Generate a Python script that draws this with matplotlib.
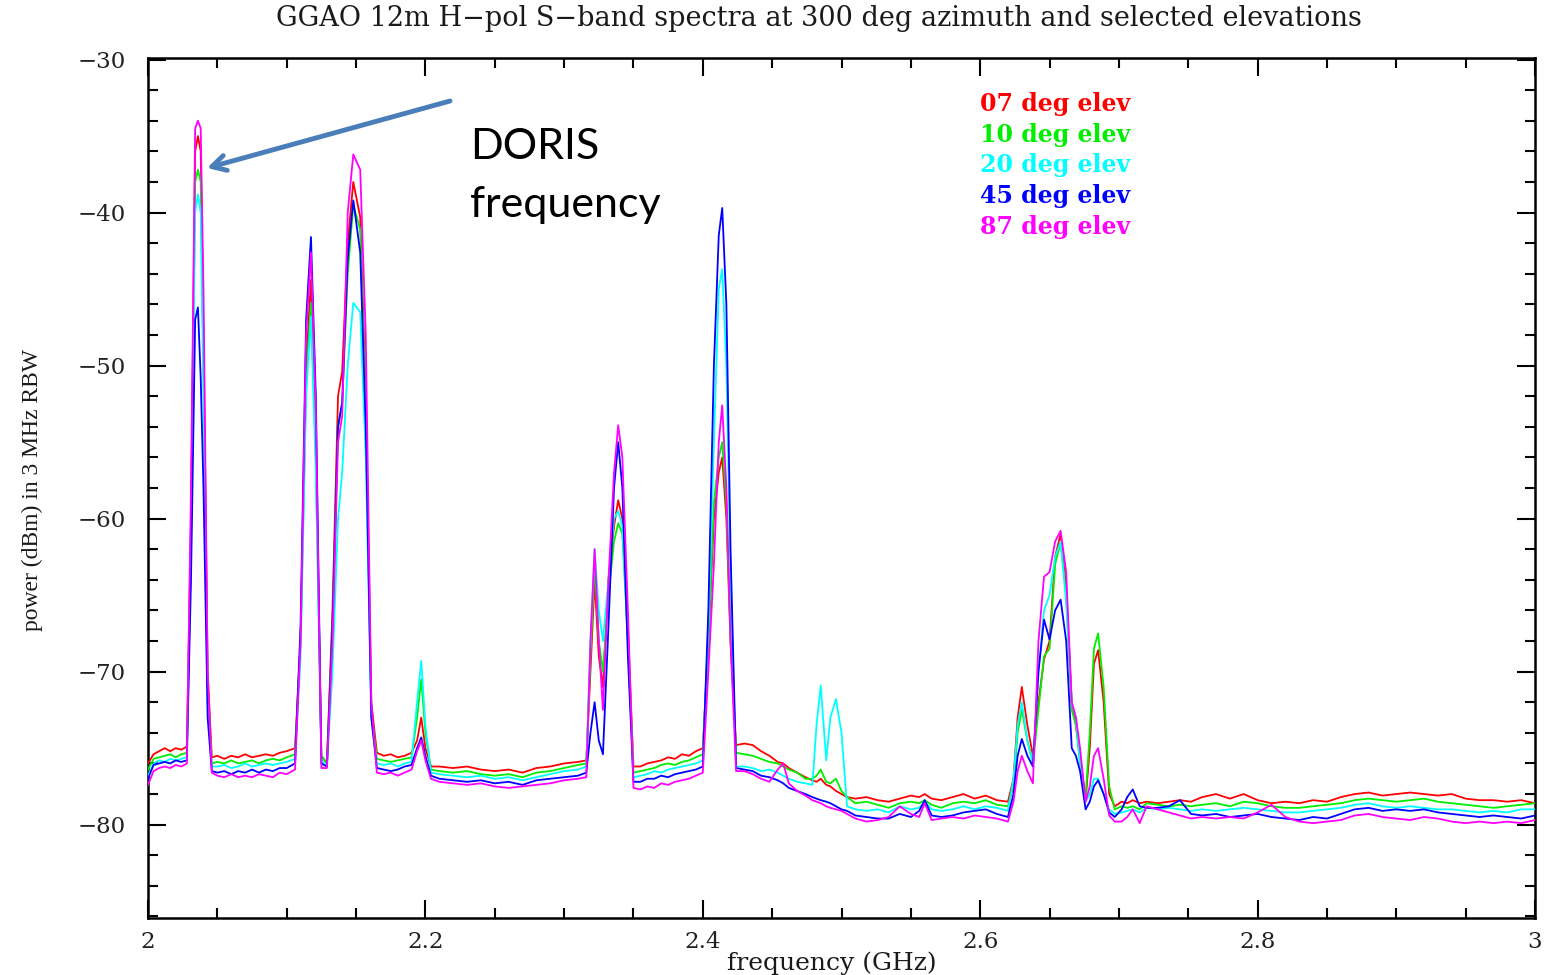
import matplotlib
matplotlib.use("Agg")
import matplotlib.pyplot as plt
from matplotlib.ticker import MultipleLocator, FuncFormatter

# ---------------- data ----------------
freq_ghz = [
    2.000, 2.004, 2.008, 2.012, 2.016, 2.020, 2.024, 2.028,
    2.031, 2.034, 2.036, 2.038, 2.040, 2.043, 2.046,
    2.050, 2.055, 2.060, 2.065, 2.070, 2.075, 2.080, 2.085, 2.090, 2.095, 2.100, 2.106,
    2.110, 2.114, 2.1175, 2.121, 2.125,
    2.129, 2.133, 2.137, 2.140, 2.144, 2.148, 2.153, 2.157, 2.161,
    2.165, 2.170, 2.175, 2.180, 2.185, 2.190,
    2.194, 2.197, 2.200, 2.204,
    2.210, 2.220, 2.230, 2.240, 2.250, 2.260, 2.270, 2.280, 2.290, 2.300, 2.310, 2.316,
    2.319, 2.322, 2.325, 2.328, 2.332, 2.336, 2.339, 2.342, 2.346, 2.350,
    2.355, 2.360, 2.365, 2.370, 2.375, 2.380, 2.385, 2.390, 2.395, 2.400,
    2.404, 2.408, 2.4115, 2.414, 2.417, 2.420, 2.424,
    2.430, 2.436, 2.442, 2.448, 2.454, 2.458, 2.462, 2.468, 2.474, 2.479,
    2.482, 2.485, 2.489, 2.492, 2.496, 2.500, 2.504,
    2.510, 2.518, 2.526, 2.534, 2.542, 2.550, 2.556, 2.560, 2.565, 2.572, 2.580, 2.588,
    2.596, 2.604, 2.612, 2.620,
    2.624, 2.627, 2.630, 2.634, 2.638, 2.642, 2.646, 2.650, 2.654, 2.658, 2.662, 2.666,
    2.669, 2.672, 2.676, 2.679, 2.682, 2.685, 2.689, 2.693, 2.697,
    2.702, 2.706, 2.710, 2.715, 2.720, 2.728, 2.736, 2.744, 2.752, 2.760, 2.770, 2.780,
    2.790, 2.800, 2.810, 2.820, 2.830, 2.840, 2.850, 2.860, 2.870, 2.880, 2.890, 2.900,
    2.910, 2.920, 2.930, 2.940, 2.950, 2.960, 2.970, 2.980, 2.990, 3.000,
]

elev07 = [
    -76.0, -75.4, -75.2, -75.0, -75.2, -75.0, -75.1, -74.9,
    -60.0, -36.0, -35.0, -36.0, -48.0, -70.0, -75.6,
    -75.5, -75.7, -75.5, -75.6, -75.4, -75.6, -75.5, -75.4, -75.5, -75.3, -75.2, -75.0,
    -68.0, -50.0, -44.4, -55.0, -75.5,
    -76.0, -66.0, -52.0, -50.4, -42.0, -38.0, -40.3, -52.0, -72.0,
    -75.3, -75.5, -75.4, -75.6, -75.5, -75.3,
    -74.5, -73.0, -75.0, -76.2,
    -76.2, -76.3, -76.2, -76.4, -76.5, -76.4, -76.6, -76.3, -76.2, -76.0, -75.9, -75.8,
    -70.0, -64.0, -69.0, -71.0, -64.0, -60.5, -58.8, -60.0, -67.0, -76.2,
    -76.2, -76.0, -75.9, -75.8, -75.6, -75.7, -75.4, -75.5, -75.2, -75.0,
    -68.0, -60.0, -57.0, -56.0, -60.0, -68.0, -74.8,
    -74.7, -74.8, -75.2, -75.5, -75.9, -76.0, -76.3, -76.6, -76.9, -77.1,
    -77.2, -77.0, -77.4, -77.5, -77.8, -78.0, -78.2,
    -78.3, -78.2, -78.4, -78.5, -78.3, -78.1, -78.2, -78.0, -78.3, -78.4, -78.2, -78.0,
    -78.3, -78.1, -78.4, -78.5,
    -77.0, -73.0, -71.0, -73.5, -75.5, -72.0, -69.2, -68.0, -62.5, -61.0, -64.5, -72.0,
    -73.5, -75.5, -78.4, -75.0, -69.5, -68.6, -72.0, -78.0, -78.8,
    -78.5, -78.6, -78.4, -78.6, -78.5, -78.6, -78.5, -78.4, -78.5, -78.2, -78.0, -78.3,
    -78.0, -78.4, -78.6, -78.5, -78.6, -78.4, -78.5, -78.2, -78.0, -77.9, -78.1, -78.0,
    -77.9, -78.0, -78.1, -78.0, -78.3, -78.4, -78.4, -78.5, -78.4, -78.6,
]

elev10 = [
    -76.4, -75.7, -75.6, -75.5, -75.4, -75.6, -75.4, -75.3,
    -61.0, -38.0, -37.2, -38.0, -50.0, -71.0, -76.0,
    -75.9, -76.0, -75.8, -76.0, -75.9, -75.8, -76.0, -75.8, -75.7, -75.8, -75.6, -75.4,
    -68.0, -51.0, -45.9, -56.0, -75.5,
    -76.0, -67.0, -54.0, -52.5, -44.0, -39.5, -41.1, -53.0, -72.5,
    -75.7, -75.8, -75.9, -75.8, -75.7, -75.6,
    -73.0, -70.5, -74.0, -76.4,
    -76.5, -76.6, -76.5, -76.7, -76.8, -76.7, -76.9, -76.6, -76.5, -76.3, -76.1, -76.0,
    -69.0, -63.0, -68.0, -70.0, -65.0, -61.5, -60.3, -61.0, -68.0, -76.6,
    -76.5, -76.4, -76.3, -76.1, -76.0, -76.1, -75.9, -75.8, -75.6, -75.4,
    -68.0, -59.0, -56.0, -55.0, -59.0, -68.0, -75.3,
    -75.4, -75.5, -75.7, -75.9, -76.0, -76.2, -76.4, -76.6, -77.0, -77.0,
    -76.8, -76.4, -77.2, -77.3, -77.0, -77.8, -78.2,
    -78.6, -78.5, -78.7, -78.9, -78.6, -78.5, -78.6, -78.4, -78.7, -78.9, -78.6, -78.5,
    -78.6, -78.4, -78.7, -78.8,
    -77.5, -74.0, -72.5, -74.5, -76.0, -72.5, -69.0, -68.5, -63.0, -61.5, -65.0, -72.5,
    -73.5, -76.0, -78.2, -74.0, -68.5, -67.5, -71.0, -77.5, -79.0,
    -78.8, -78.9, -78.8, -79.0, -78.6, -78.7, -78.8, -78.7, -78.8, -78.7, -78.6, -78.8,
    -78.5, -78.6, -78.8, -78.9, -78.9, -78.8, -78.7, -78.6, -78.4, -78.3, -78.4, -78.5,
    -78.4, -78.3, -78.5, -78.6, -78.7, -78.8, -78.9, -78.8, -78.7, -78.6,
]

elev20 = [
    -76.8, -76.0, -75.8, -75.9, -75.7, -75.8, -75.7, -75.6,
    -62.0, -40.0, -38.8, -40.0, -52.0, -72.0, -76.2,
    -76.2, -76.1, -76.3, -76.2, -76.0, -76.2, -76.1, -76.0, -76.1, -76.0, -75.9, -75.7,
    -69.0, -52.0, -46.8, -57.0, -75.8,
    -76.2, -70.0, -60.0, -57.0, -50.0, -45.9, -46.5, -56.0, -73.0,
    -76.0, -76.1, -76.0, -76.2, -76.0, -75.9,
    -72.0, -69.3, -73.5, -76.6,
    -76.7, -76.8, -76.9, -76.8, -77.0, -76.9, -77.1, -76.9, -76.7, -76.5, -76.4, -76.2,
    -68.0, -62.0, -66.0, -68.0, -64.0, -60.0, -59.5, -60.5, -68.0, -76.9,
    -76.8, -76.7, -76.5, -76.6, -76.4, -76.3, -76.2, -76.1, -76.0, -75.8,
    -67.0, -55.0, -45.0, -43.7, -50.0, -64.0, -76.2,
    -76.2, -76.3, -76.5, -76.4, -76.6, -76.8, -77.0, -77.2, -77.3, -77.4,
    -73.5, -70.9, -75.8, -73.0, -71.8, -74.0, -78.8,
    -79.0, -79.1, -79.0, -79.2, -78.8, -79.0, -78.9, -78.5, -79.0, -79.1, -79.0, -78.8,
    -79.0, -78.8, -78.9, -79.1,
    -77.0, -73.5, -72.0, -74.5, -76.0, -70.0, -66.0, -65.0, -62.5, -61.5, -65.5, -72.0,
    -73.0, -76.0, -78.5, -78.0, -77.0, -77.0, -78.0, -79.0, -79.3,
    -79.2, -79.1, -79.0, -79.2, -78.9, -79.0, -78.9, -79.0, -79.1, -79.0, -79.1, -79.0,
    -78.9, -79.0, -79.1, -79.2, -79.2, -79.1, -79.0, -78.9, -78.7, -78.6, -78.8, -78.9,
    -78.8, -78.9, -79.0, -79.0, -79.1, -79.2, -79.1, -79.2, -79.0, -79.0,
]

elev45 = [
    -77.0, -76.1, -76.0, -75.9, -76.0, -75.8, -75.9, -75.8,
    -64.0, -47.0, -46.2, -50.8, -58.0, -73.0, -76.5,
    -76.6, -76.5, -76.7, -76.5, -76.6, -76.4, -76.6, -76.4, -76.5, -76.3, -76.3, -76.0,
    -67.0, -47.0, -41.6, -52.0, -76.0,
    -76.2, -67.0, -54.0, -52.4, -43.0, -39.2, -42.6, -54.0, -73.0,
    -76.3, -76.4, -76.5, -76.4, -76.2, -76.1,
    -75.0, -74.3, -75.5, -76.8,
    -77.0, -77.1, -77.2, -77.1, -77.3, -77.2, -77.4, -77.1, -77.0, -76.9, -76.8, -76.6,
    -74.0, -72.0, -74.5, -75.4, -67.0, -58.0, -55.0, -58.0, -69.0, -77.2,
    -77.2, -77.0, -77.0, -76.8, -76.9, -76.7, -76.6, -76.5, -76.4, -76.2,
    -66.0, -50.0, -41.5, -39.7, -46.0, -62.0, -76.3,
    -76.4, -76.5, -76.8, -76.9, -77.1, -77.3, -77.6, -77.8, -78.0, -78.2,
    -78.3, -78.4, -78.5, -78.6, -78.8, -79.0, -79.1,
    -79.4, -79.5, -79.6, -79.6, -79.3, -79.5, -79.1, -78.4, -79.4, -79.5, -79.4, -79.2,
    -79.1, -79.0, -79.3, -79.5,
    -78.0, -75.5, -74.4, -75.5, -76.2, -70.0, -66.6, -67.9, -66.0, -65.3, -68.0, -75.0,
    -75.5, -76.5, -79.0, -78.5, -77.5, -77.1, -78.0, -79.2, -79.5,
    -79.0, -78.2, -77.7, -78.8, -78.9, -78.9, -78.8, -78.4, -79.3, -79.4, -79.3, -79.5,
    -79.4, -79.3, -79.5, -79.6, -79.7, -79.5, -79.6, -79.3, -79.0, -78.9, -79.1, -79.0,
    -79.1, -79.0, -79.2, -79.3, -79.4, -79.5, -79.4, -79.5, -79.6, -79.4,
]

elev87 = [
    -77.4, -76.5, -76.3, -76.2, -76.3, -76.1, -76.2, -76.0,
    -58.0, -34.5, -34.0, -34.5, -45.0, -70.0, -76.6,
    -76.8, -76.9, -76.7, -76.9, -76.8, -76.9, -76.7, -76.8, -76.9, -76.6, -76.7, -76.4,
    -68.0, -48.0, -42.6, -53.0, -76.3,
    -76.3, -68.0, -55.0, -53.3, -40.0, -36.2, -37.2, -48.0, -72.0,
    -76.6, -76.7, -76.6, -76.8, -76.6, -76.4,
    -75.2, -74.5, -75.8, -77.0,
    -77.2, -77.3, -77.4, -77.3, -77.5, -77.6, -77.5, -77.4, -77.3, -77.1, -77.0, -76.9,
    -68.0, -62.0, -68.0, -72.5, -64.0, -57.0, -53.9, -56.0, -66.0, -77.6,
    -77.7, -77.5, -77.6, -77.3, -77.4, -77.2, -77.1, -77.0, -76.8, -76.6,
    -70.0, -63.0, -55.0, -52.6, -58.0, -68.0, -76.5,
    -76.5, -76.7, -77.0, -77.2, -76.4, -76.0, -77.3, -77.8, -78.1, -78.4,
    -78.5, -78.6, -78.8, -78.9, -79.0, -79.1, -79.3,
    -79.6, -79.8, -79.7, -79.5, -78.8, -79.3, -79.5, -78.6, -79.7, -79.6, -79.5, -79.6,
    -79.4, -79.5, -79.6, -79.8,
    -78.5, -76.5, -75.5, -76.5, -77.3, -68.0, -63.8, -63.5, -61.5, -60.8, -63.5, -72.0,
    -73.0, -75.0, -78.5, -77.5, -75.5, -75.0, -77.0, -79.4, -79.8,
    -79.8, -79.5, -79.0, -79.9, -78.8, -79.0, -79.2, -79.4, -79.6, -79.5, -79.6, -79.5,
    -79.6, -79.2, -78.7, -79.5, -79.8, -79.9, -79.8, -79.7, -79.4, -79.3, -79.5, -79.6,
    -79.7, -79.5, -79.6, -79.8, -79.9, -79.8, -79.9, -79.8, -79.9, -79.7,
]

series = [elev07, elev10, elev20, elev45, elev87]
series_labels = ["07 deg elev", "10 deg elev", "20 deg elev", "45 deg elev", "87 deg elev"]
series_colors = ["#ff0000", "#00ee00", "#00ffff", "#0000ff", "#ff00ff"]

x_major_ticks = [2.0, 2.2, 2.4, 2.6, 2.8, 3.0]
x_tick_labels = ["2", "2.2", "2.4", "2.6", "2.8", "3"]
y_major_ticks = [-80, -70, -60, -50, -40, -30]

title_text = "GGAO 12m H\u2212pol S\u2212band spectra at 300 deg azimuth and selected elevations"
xlabel_text = "frequency (GHz)"
ylabel_text = "power (dBm) in 3 MHz RBW"
annot_text = "DORIS\nfrequency"

# ---------------- figure ----------------
W, H, DPI = 1546, 975, 100
fig = plt.figure(figsize=(W / DPI, H / DPI), dpi=DPI)
fig.patch.set_facecolor("white")
ax = fig.add_axes([148 / W, 1 - 918 / H, (1535 - 148) / W, (918 - 58) / H])

for vals, col in zip(series, series_colors):
    ax.plot(freq_ghz, vals, color=col, lw=1.3, solid_joinstyle="round", zorder=3)

ax.set_xlim(2.0, 3.0)
ax.set_ylim(-86.1, -29.9)

ax.set_xticks(x_major_ticks)
ax.set_xticklabels(x_tick_labels)
ax.xaxis.set_minor_locator(MultipleLocator(0.05))
ax.set_yticks(y_major_ticks)
ax.yaxis.set_major_formatter(FuncFormatter(lambda v, p: ("\u2212%d" % abs(v)) if v < 0 else "%d" % v))
ax.yaxis.set_minor_locator(MultipleLocator(2))

ax.tick_params(which="both", direction="in", top=True, right=True, width=1.5, colors="black")
ax.tick_params(which="major", length=13)
ax.tick_params(which="minor", length=7)
ax.tick_params(axis="x", which="major", pad=9)
ax.tick_params(axis="y", which="major", pad=16)
for lab in ax.get_xticklabels() + ax.get_yticklabels():
    lab.set_fontfamily("DejaVu Serif")
    lab.set_fontsize(16.5)
    lab.set_color("#222222")
for sp in ax.spines.values():
    sp.set_linewidth(1.8)

fig.text(0.530, 1 - 18 / H, title_text, ha="center", va="center",
         fontfamily="DejaVu Serif", fontsize=19.5, color="#1a1a1a")
fig.text(832 / W, 1 - 963 / H, xlabel_text, ha="center", va="center",
         fontfamily="DejaVu Serif", fontsize=18, color="#1a1a1a")
fig.text(32 / W, 1 - 490 / H, ylabel_text, ha="center", va="center", rotation=90,
         fontfamily="Liberation Serif", fontsize=17, color="#1a1a1a")

# legend-like labels
for i, (lab, col) in enumerate(zip(series_labels, series_colors)):
    fig.text(980 / W, 1 - (104 + i * 30.7) / H, lab, ha="left", va="center",
             fontfamily="DejaVu Serif", fontweight="bold", fontsize=17, color=col)

# DORIS annotation
fig.text(470 / W, 1 - 147 / H, annot_text.split("\n")[0], ha="left", va="center",
         fontfamily="Lato", fontsize=31, color="black")
fig.text(470 / W, 1 - 205 / H, annot_text.split("\n")[1], ha="left", va="center",
         fontfamily="Lato", fontsize=31, color="black")
ax.annotate("", xy=(207 / W, 1 - 168 / H), xycoords="figure fraction",
            xytext=(450 / W, 1 - 101 / H), textcoords="figure fraction",
            arrowprops=dict(arrowstyle="->,head_length=1.0,head_width=0.55",
                            color="#4a7ebb", lw=3.5, shrinkA=0, shrinkB=0))

fig.savefig("out.png", dpi=DPI, facecolor="white")
